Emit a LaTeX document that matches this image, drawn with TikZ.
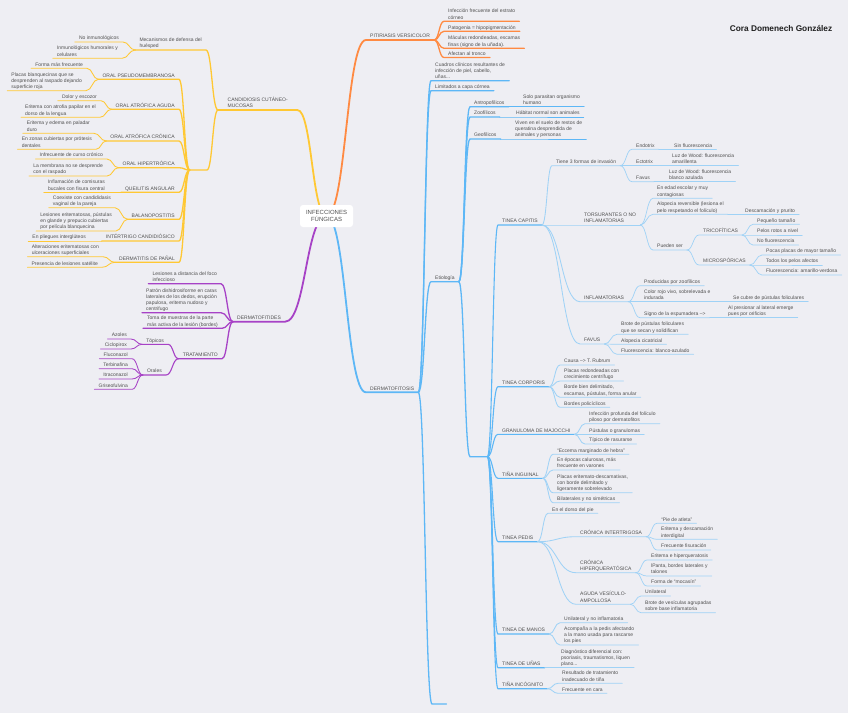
\documentclass[tikz,border=0pt]{standalone}
\usepackage{fontspec}
\setmainfont{Liberation Sans}
\usetikzlibrary{calc}
\pgfdeclarelayer{bg}
\pgfsetlayers{bg,main}
\definecolor{bgc}{HTML}{EEEEF3}
\definecolor{txt}{HTML}{505050}
\definecolor{yel}{HTML}{FFC833}
\definecolor{orng}{HTML}{FF8A42}
\definecolor{pur}{HTML}{A742C6}
\definecolor{blu}{HTML}{5DB7F6}
\definecolor{blul}{HTML}{9FD2F6}
\newcommand\rconn[3]{\draw[#1] (#2.south east) to[cv] (#3.south west) -- (#3.south east);}
\newcommand\lconn[3]{\draw[#1] (#2.south west) to[cv] (#3.south east) -- (#3.south west);}
\begin{document}
\begin{tikzpicture}[x=1pt,y=-1pt,
 tx/.style={font=\fontsize{5}{6.1}\selectfont, text=txt, inner xsep=4pt, inner ysep=0.2pt, align=left, execute at end node=\strut},
 nr/.style={tx, anchor=south west},
 nl/.style={tx, anchor=south east},
 hubr/.style={inner sep=0pt, minimum width=#1, minimum height=0pt, anchor=south west},
 hubl/.style={inner sep=0pt, minimum width=#1, minimum height=0pt, anchor=south east},
 cv/.style={to path={let \p1=(\tikztostart), \p2=(\tikztotarget) in .. controls ({0.5*\x1+0.5*\x2},\y1) and ({0.5*\x1+0.5*\x2},\y2) .. (\tikztotarget)}},
 L1/.style={line width=1.8pt, line cap=round},
 L2/.style={line width=1.3pt, line cap=round},
 L2b/.style={line width=1.1pt, line cap=round},
 L3/.style={line width=0.85pt, line cap=round},
 L4/.style={line width=0.7pt, line cap=round}]
\useasboundingbox (0,0) rectangle (848,713);

% title and root
\node[font=\bfseries\fontsize{8.3}{10}\selectfont, text=black!88] (title) at (781,28) {Cora Domenech González};
\node[fill=white, rounded corners=3pt, minimum width=53pt, minimum height=22pt, align=center, font=\fontsize{6}{7.3}\selectfont, text=txt, inner sep=0pt] (root) at (326.5,216) {INFECCIONES\\FÚNGICAS};

% ORANGE
\node[nr] (pit) at (366,40) {PITIRIASIS VERSICOLOR};
\node[nr] (p1) at (444,21.3) {Infección frecuente del estrato\\córneo};
\node[nr] (p2) at (444,31.3) {Patogenia = hipopigmentación};
\node[nr] (p3) at (444,48.3) {Máculas redondeadas, escamas\\finas (signo de la uñada).};
\node[nr] (p4) at (444,57.5) {Afectan al tronco};

% BLUE
\node[nr] (der) at (366,392.3) {DERMATOFITOSIS};
\node[nr] (cua) at (431,80.7) {Cuadros clínicos resultantes de\\infección de piel, cabello,\\uñas...};
\node[nr] (lim) at (431,90.7) {Limitados a capa córnea};
\node[nr] (eti) at (431,281.7) {Etiología};
\node[hubr=14pt] (emp) at (432,704) {};
\node[nr] (ant) at (470,106.7) {Antropofílicos};
\node[nr] (ant1) at (519,106.7) {Solo parasitan organismo\\humano};
\node[nr] (zoo) at (470,117) {Zoofílicos};
\node[nr] (zoo1) at (512,117) {Hábitat normal son animales};
\node[nr] (geo) at (470,139) {Geofílicos};
\node[nr] (geo1) at (511,139) {Viven en el suelo de restos de\\queratina desprendida de\\animales y personas};
\node[hubr=17pt] (hE) at (470,456.7) {};
\node[nr] (tc) at (498,225) {TINEA CAPITIS};
\node[nr] (tc1) at (552,165.7) {Tiene 3 formas de invasión};
\node[nr] (endo) at (632,149.3) {Endotrix};
\node[nr] (endo1) at (670,149.3) {Sin fluorescencia};
\node[nr] (ecto) at (632,165.7) {Ectotrix};
\node[nr] (ecto1) at (668,165.7) {Luz de Wood: fluorescencia\\amarillenta};
\node[nr] (fav) at (632,181.7) {Favus};
\node[nr] (fav1) at (665,181.7) {Luz de Wood: fluorescencia\\blanco azulada};
\node[nr] (tor) at (580,225) {TORSURANTES O NO\\INFLAMATORIAS};
\node[nr] (tor1) at (653,198.3) {En edad escolar y muy\\contagiosas};
\node[nr] (tor2) at (653,214.3) {Alopecia reversible (lesiona el\\pelo respetando el folículo)};
\node[nr] (tor2a) at (741,214.3) {Descamación y prurito};
\node[nr] (tor3) at (653,250) {Pueden ser};
\node[nr] (tri) at (699,235) {TRICOFÍTICAS};
\node[nr] (tri1) at (753,224.3) {Pequeño tamaño};
\node[nr] (tri2) at (753,235) {Pelos rotos a nivel};
\node[nr] (tri3) at (753,245) {No fluorescencia};
\node[nr] (mic) at (699,265) {MICROSPÓRICAS};
\node[nr] (mic1) at (762,255) {Pocas placas de mayor tamaño};
\node[nr] (mic2) at (762,265) {Todos los pelos afectos};
\node[nr] (mic3) at (762,275) {Fluorescencia: amarillo-verdosa};
\node[nr] (inf) at (580,301.7) {INFLAMATORIAS};
\node[nr] (inf1) at (640,285.7) {Producidas por zoofílicos};
\node[nr] (inf2) at (640,301.7) {Color rojo vivo, sobrelevada e\\indurada};
\node[nr] (inf2a) at (729,301.7) {Se cubre de pústulas foliculares};
\node[nr] (inf3) at (640,317.7) {Signo de la espumadera -->};
\node[nr] (inf3a) at (724,317.7) {Al presionar al lateral emerge\\pues por orificios};
\node[nr] (fvs) at (580,344) {FAVUS};
\node[nr] (fvs1) at (617,334.3) {Brote de pústulas foliculares\\que se secan y solidifican};
\node[nr] (fvs2) at (617,344.3) {Alopecia cicatricial};
\node[nr] (fvs3) at (617,354.3) {Fluorescencia: blanco-azulado};
\node[nr] (tco) at (498,386.7) {TINEA CORPORIS};
\node[nr] (tco1) at (560,365) {Causa --> T. Rubrum};
\node[nr] (tco2) at (560,381) {Placas redondeadas con\\crecimiento centrífugo};
\node[nr] (tco3) at (560,397.3) {Borde bien delimitado,\\escamas, pústulas, forma anular};
\node[nr] (tco4) at (560,407.3) {Bordes policíclicos};
\node[nr] (gra) at (498,434.3) {GRANULOMA DE MAJOCCHI};
\node[nr] (gra1) at (585,423.7) {Infección profunda del folículo\\piloso por dermatofitos};
\node[nr] (gra2) at (585,434.3) {Pústulas o granulomas};
\node[nr] (gra3) at (585,444) {Típico de rasurarse};
\node[nr] (ing) at (498,478.3) {TIÑA INGUINAL};
\node[nr] (ing1) at (553,454.3) {“Eccema marginado de hebra”};
\node[nr] (ing2) at (553,470) {En épocas calurosas, más\\frecuente en varones};
\node[nr] (ing3) at (553,492.7) {Placas eritemato-descamativas,\\con borde delimitado y\\ligeramente sobrelevado};
\node[nr] (ing4) at (553,502.7) {Bilaterales y no simétricas};
\node[nr] (ped) at (498,541.7) {TINEA PEDIS};
\node[nr] (ped1) at (548,513.3) {En el dorso del pie};
\node[nr] (ped2) at (576,536.7) {CRÓNICA INTERTRIGOSA};
\node[nr] (ped2a) at (657,523.3) {“Pie de atleta”};
\node[nr] (ped2b) at (657,539.3) {Eritema y descamación\\interdigital};
\node[nr] (ped2c) at (657,550) {Frecuente fisuración};
\node[nr] (ped3) at (576,572.7) {CRÓNICA\\HIPERQUERATÓSICA};
\node[nr] (ped3a) at (647,560) {Eritema e hiperqueratosis};
\node[nr] (ped3b) at (647,576) {lPanta, bordes laterales y\\talones};
\node[nr] (ped3c) at (647,586) {Forma de “mocasín”};
\node[nr] (ped4) at (576,604.3) {AGUDA VESÍCULO-\\AMPOLLOSA};
\node[nr] (ped4a) at (641,596) {Unilateral};
\node[nr] (ped4b) at (641,612.7) {Brote de vesículas agrupadas\\sobre base inflamatoria};
\node[nr] (man) at (498,634) {TINEA DE MANOS};
\node[nr] (man1) at (560,622.7) {Unilateral y no inflamatoria};
\node[nr] (man2) at (560,645) {Acompaña a la pedis afectando\\a la mano usada para rascarse\\los pies};
\node[nr] (una) at (498,667.7) {TINEA DE UÑAS};
\node[nr] (una1) at (557,667.7) {Diagnóstico diferencial con:\\psoriasis, traumatismos, liquen\\plano...};
\node[nr] (inc) at (498,688.7) {TIÑA INCÓGNITO};
\node[nr] (inc1) at (558,683.3) {Resultado de tratamiento\\inadecuado de tiña};
\node[nr] (inc2) at (558,693.3) {Frecuente en cara};

% YELLOW
\node[tx, anchor=south west, minimum width=79pt] (can) at (218,110) {CANDIDIOSIS CUTÁNEO-\\MUCOSAS};
\node[nl] (mec) at (206,50) {Mecanismos de defensa del\\huésped};
\node[nl] (mec1) at (123,42) {No inmunológicos};
\node[nl] (mec2) at (122,58.3) {Inmunológicos humorales y\\celulares};
\node[hubl=17pt] (hC) at (207,170) {};
\node[nl] (ops) at (179,79.3) {ORAL PSEUDOMEMBRANOSA};
\node[nl] (ops1) at (87,68.3) {Forma más frecuente};
\node[nl] (ops2) at (86,90.7) {Placas blanquecinas que se\\desprenden al raspado dejando\\superficie roja};
\node[nl] (oaa) at (179,109.3) {ORAL ATRÓFICA AGUDA};
\node[nl] (oaa1) at (101,100.7) {Dolor y escozor};
\node[nl] (oaa2) at (100,117.3) {Eritema con atrofia papilar en el\\dorso de la lengua};
\node[nl] (oac) at (179,141) {ORAL ATRÓFICA CRÓNICA};
\node[nl] (oac1) at (94,133.3) {Eritema y edema en paladar\\duro};
\node[nl] (oac2) at (96,149.3) {En zonas cubiertas por prótesis\\dentales};
\node[nl] (ohi) at (179,167.7) {ORAL HIPERTRÓFICA};
\node[nl] (ohi1) at (107,159) {Infrecuente de curso crónico};
\node[nl] (ohi2) at (107,176) {La membrana no se desprende\\con el raspado};
\node[nl] (que) at (179,192.3) {QUEILITIS ANGULAR};
\node[nl] (que1) at (109,192.3) {Inflamación de comisuras\\bucales con fisura central};
\node[nl] (bal) at (179,219.3) {BALANOPOSTITIS};
\node[nl] (bal1) at (115,207.7) {Coexiste con candididasis\\vaginal de la pareja};
\node[nl] (bal2) at (116,231) {Lesiones eritematosas, pústulas\\en glande y prepucio cubiertas\\por película blanquecina};
\node[nl] (intr) at (179,241) {INTÉRTRIGO CANDIDIÓSICO};
\node[nl] (intr1) at (90,241) {En pliegues interglúteos};
\node[nl] (dpa) at (179,262.3) {DERMATITIS DE PAÑAL};
\node[nl] (dpa1) at (103,256.7) {Alteraciones eritematosas con\\ulceraciones superficiales};
\node[nl] (dpa2) at (102,267.3) {Presencia de lesiones satélite};

% PURPLE
\node[nr] (dft) at (233,321.7) {DERMATOFITIDES};
\node[nl] (d1) at (221,283.7) {Lesiones a distancia del foco\\infeccioso};
\node[nl] (d2) at (221,312.7) {Patrón dishidrosiforme en caras\\laterales de los dedos, erupción\\papulosa, eritema nudoso y\\centrifugo};
\node[nl] (d3) at (222,328.3) {Toma de muestras de la parte\\más activa de la lesión (bordes)};
\node[nl] (tra) at (222,358.7) {TRATAMIENTO};
\node[nl] (topi) at (168,344.3) {Tópicos};
\node[nl] (az) at (131,339) {Azoles};
\node[nl] (ci) at (131,349) {Ciclopirox};
\node[nl] (orl) at (166,375) {Orales};
\node[nl] (flu) at (132,358.7) {Fluconazol};
\node[nl] (ter) at (132,368.7) {Terbinafina};
\node[nl] (itr) at (132,379) {Itraconazol};
\node[nl] (gri) at (132,389.3) {Griseofulvina};

\begin{pgfonlayer}{bg}
\fill[bgc] (0,0) rectangle (848,713);
% orange
\draw[L1,orng] (root.center) to[cv] (pit.south west) -- (pit.south east);
\foreach \q in {p1,p2,p3,p4}{\rconn{L2,orng}{pit}{\q}}
% yellow
\draw[L1,yel] (root.center) to[cv] (can.south east) -- (can.south west);
\lconn{L2,yel}{can}{mec}
\lconn{L2,yel}{can}{hC}
\foreach \q in {mec1,mec2}{\lconn{L3,yel}{mec}{\q}}
\foreach \q in {ops,oaa,oac,ohi,que,bal,intr,dpa}{\lconn{L2,yel}{hC}{\q}}
\foreach \q in {ops1,ops2}{\lconn{L3,yel}{ops}{\q}}
\foreach \q in {oaa1,oaa2}{\lconn{L3,yel}{oaa}{\q}}
\foreach \q in {oac1,oac2}{\lconn{L3,yel}{oac}{\q}}
\foreach \q in {ohi1,ohi2}{\lconn{L3,yel}{ohi}{\q}}
\lconn{L3,yel}{que}{que1}
\foreach \q in {bal1,bal2}{\lconn{L3,yel}{bal}{\q}}
\lconn{L3,yel}{intr}{intr1}
\foreach \q in {dpa1,dpa2}{\lconn{L3,yel}{dpa}{\q}}
% purple
\draw[L1,pur] (root.center) to[cv] (dft.south east) -- (dft.south west);
\foreach \q in {d1,d2,d3,tra}{\lconn{L2,pur}{dft}{\q}}
\foreach \q in {topi,orl}{\lconn{L2b,pur}{tra}{\q}}
\foreach \q in {az,ci}{\lconn{L3,pur}{topi}{\q}}
\foreach \q in {flu,ter,itr,gri}{\lconn{L3,pur}{orl}{\q}}
% blue
\draw[L1,blu] (root.center) to[cv] (der.south west) -- (der.south east);
\foreach \q in {cua,lim,eti,emp}{\rconn{L2,blu}{der}{\q}}
\foreach \q in {ant,zoo,geo,hE}{\rconn{L2,blu}{eti}{\q}}
\rconn{L3,blu}{ant}{ant1}
\rconn{L3,blu}{zoo}{zoo1}
\rconn{L3,blu}{geo}{geo1}
\foreach \q in {tc,tco,gra,ing,ped,man,una,inc}{\rconn{L2b,blu}{hE}{\q}}
\foreach \q in {tc1,tor,inf,fvs}{\rconn{L3,blul}{tc}{\q}}
\foreach \q in {endo,ecto,fav}{\rconn{L4,blul}{tc1}{\q}}
\rconn{L4,blul}{endo}{endo1}
\rconn{L4,blul}{ecto}{ecto1}
\rconn{L4,blul}{fav}{fav1}
\foreach \q in {tor1,tor2,tor3}{\rconn{L4,blul}{tor}{\q}}
\rconn{L4,blul}{tor2}{tor2a}
\foreach \q in {tri,mic}{\rconn{L4,blul}{tor3}{\q}}
\foreach \q in {tri1,tri2,tri3}{\rconn{L4,blul}{tri}{\q}}
\foreach \q in {mic1,mic2,mic3}{\rconn{L4,blul}{mic}{\q}}
\foreach \q in {inf1,inf2,inf3}{\rconn{L4,blul}{inf}{\q}}
\rconn{L4,blul}{inf2}{inf2a}
\rconn{L4,blul}{inf3}{inf3a}
\foreach \q in {fvs1,fvs2,fvs3}{\rconn{L4,blul}{fvs}{\q}}
\foreach \q in {tco1,tco2,tco3,tco4}{\rconn{L3,blul}{tco}{\q}}
\foreach \q in {gra1,gra2,gra3}{\rconn{L3,blul}{gra}{\q}}
\foreach \q in {ing1,ing2,ing3,ing4}{\rconn{L3,blul}{ing}{\q}}
\foreach \q in {ped1,ped2,ped3,ped4}{\rconn{L3,blul}{ped}{\q}}
\foreach \q in {ped2a,ped2b,ped2c}{\rconn{L4,blul}{ped2}{\q}}
\foreach \q in {ped3a,ped3b,ped3c}{\rconn{L4,blul}{ped3}{\q}}
\foreach \q in {ped4a,ped4b}{\rconn{L4,blul}{ped4}{\q}}
\foreach \q in {man1,man2}{\rconn{L3,blul}{man}{\q}}
\rconn{L3,blul}{una}{una1}
\foreach \q in {inc1,inc2}{\rconn{L3,blul}{inc}{\q}}
\end{pgfonlayer}
\end{tikzpicture}
\end{document}
